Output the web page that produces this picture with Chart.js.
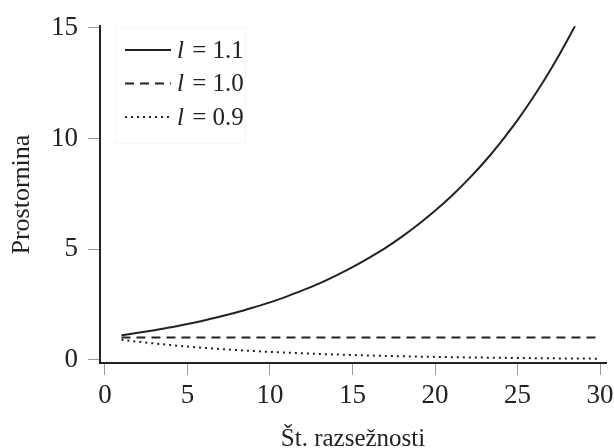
<!DOCTYPE html>
<html>
<head>
<meta charset="utf-8">
<script src="https://cdn.jsdelivr.net/npm/chart.js@4/dist/chart.umd.min.js"></script>
<style>
  html, body { margin: 0; padding: 0; background: #fff; }
  #wrap { width: 614px; height: 448px; }
</style>
</head>
<body>
<div id="wrap"><canvas id="c" width="614" height="448"></canvas></div>
<script>
// Number of dimensions (x values)
const dimensions = [1,2,3,4,5,6,7,8,9,10,11,12,13,14,15,16,17,18,19,20,21,22,23,24,25,26,27,28,29,30];
// Volume for edge length l = 1.1
const volume11 = [1.10,1.21,1.33,1.46,1.61,1.77,1.95,2.14,2.36,2.59,2.85,3.14,3.45,3.80,4.18,4.60,5.05,5.56,6.12,6.73,7.40,8.14,8.95,9.85,10.83,11.92,13.11,14.42,15.86,17.45];
// Volume for edge length l = 1.0
const volume10 = [1,1,1,1,1,1,1,1,1,1,1,1,1,1,1,1,1,1,1,1,1,1,1,1,1,1,1,1,1,1];
// Volume for edge length l = 0.9
const volume09 = [0.900,0.810,0.729,0.656,0.590,0.531,0.478,0.430,0.387,0.349,0.314,0.282,0.254,0.229,0.206,0.185,0.167,0.150,0.135,0.122,0.109,0.098,0.089,0.080,0.072,0.065,0.058,0.052,0.047,0.042];
// Legend values of l
const lLabels = ['1.1', '1.0', '0.9'];
// Tick labels
const xTicks = [0,5,10,15,20,25,30];
const yTicks = [0,5,10,15];

const FONT = '"Liberation Serif", "DejaVu Serif", serif';
const INK = '#222222';

function pts(ys) { return dimensions.map((x, i) => ({x: x, y: ys[i]})); }

const legendPlugin = {
  id: 'texLegend',
  afterDraw(chart) {
    const ctx = chart.ctx;
    ctx.save();
    // very faint legend frame
    ctx.strokeStyle = '#f6f6f6';
    ctx.lineWidth = 1;
    ctx.setLineDash([]);
    ctx.strokeRect(115.5, 27.5, 130, 116);
    chart.data.datasets.forEach((ds, i) => {
      const y = 50 + i * 33.5;
      ctx.strokeStyle = ds.borderColor;
      ctx.lineWidth = ds.borderWidth;
      ctx.setLineDash(ds.borderDash || []);
      ctx.beginPath();
      ctx.moveTo(125, y);
      ctx.lineTo(171, y);
      ctx.stroke();
      ctx.setLineDash([]);
      ctx.fillStyle = INK;
      ctx.textBaseline = 'middle';
      ctx.textAlign = 'left';
      ctx.font = 'italic 25px ' + FONT;
      ctx.fillText('l', 177, y + 1);
      const w = ctx.measureText('l').width;
      ctx.font = '25px ' + FONT;
      ctx.fillText(' = ' + lLabels[i], 177 + w + 2, y + 1);
    });
    ctx.restore();
  }
};

new Chart(document.getElementById('c'), {
  type: 'line',
  data: {
    datasets: [
      { label: 'l = ' + lLabels[0], data: pts(volume11), borderColor: INK, borderWidth: 2, borderDash: [], pointRadius: 0, cubicInterpolationMode: 'monotone', fill: false },
      { label: 'l = ' + lLabels[1], data: pts(volume10), borderColor: INK, borderWidth: 2, borderDash: [9, 6], pointRadius: 0, fill: false },
      { label: 'l = ' + lLabels[2], data: pts(volume09), borderColor: INK, borderWidth: 2, borderDash: [2, 4], pointRadius: 0, cubicInterpolationMode: 'monotone', fill: false }
    ]
  },
  options: {
    responsive: false,
    animation: false,
    events: [],
    layout: { padding: { top: 18, right: 8, left: 0, bottom: 0 } },
    plugins: { legend: { display: false }, tooltip: { enabled: false } },
    scales: {
      x: {
        type: 'linear',
        min: -0.3,
        max: 30.36,
        afterBuildTicks: s => { s.ticks = xTicks.map(v => ({value: v})); },
        afterFit: s => { s.height = 85; s.paddingLeft = 0; s.paddingRight = 0; },
        grid: { drawOnChartArea: false, drawTicks: true, tickLength: 12, color: '#9a9a9a', lineWidth: 1 },
        border: { display: true, color: INK, width: 2 },
        ticks: { color: INK, font: { family: FONT, size: 27 }, padding: 5, maxRotation: 0, autoSkip: false },
        title: { display: true, text: 'Št. razsežnosti', color: INK, font: { family: FONT, size: 25, lineHeight: 0.68 }, padding: { top: 0, bottom: 0 } }
      },
      y: {
        type: 'linear',
        min: -0.154,
        max: 15.08,
        afterBuildTicks: s => { s.ticks = yTicks.map(v => ({value: v})); },
        afterFit: s => { s.width = 100; },
        grid: { drawOnChartArea: false, drawTicks: true, tickLength: 12, color: '#9a9a9a', lineWidth: 1 },
        border: { display: true, color: INK, width: 2 },
        ticks: { color: INK, font: { family: FONT, size: 27 }, padding: 10, autoSkip: false },
        title: { display: true, text: 'Prostornina', color: INK, font: { family: FONT, size: 26, lineHeight: 1 }, padding: { top: 9, bottom: 0 } }
      }
    }
  },
  plugins: [legendPlugin]
});
</script>
</body>
</html>
